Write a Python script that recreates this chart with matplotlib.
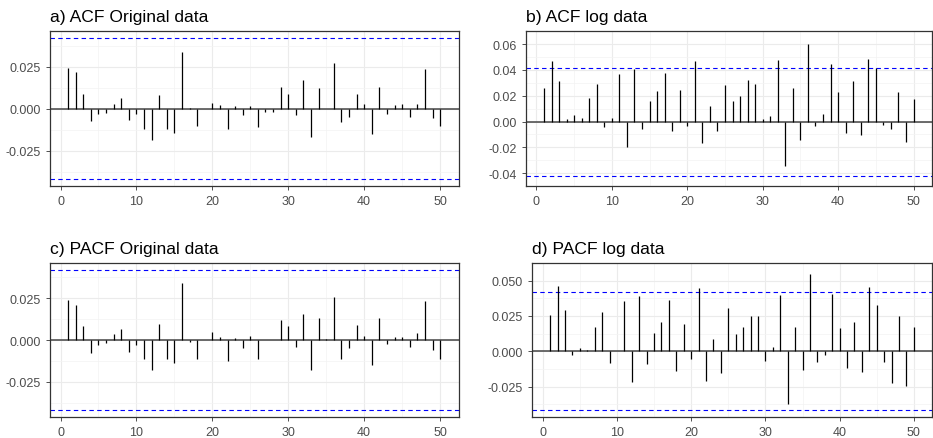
# plot.py
# ACF / PACF panels, original vs log data, ggplot theme_bw look.

import matplotlib
matplotlib.use("Agg")
import matplotlib.pyplot as plt
import numpy as np

plt.rcParams["font.family"] = ["Liberation Sans", "DejaVu Sans"]

lags = np.arange(1, 51)
ci = 0.0419

acf_orig = [0.0240, 0.0219, 0.0089, -0.0075, -0.0030, -0.0024, 0.0031, 0.0065, -0.0069, -0.0030,
            -0.0120, -0.0185, 0.0083, -0.0122, -0.0144, 0.0335, 0.0002, -0.0104, 0.0001, 0.0035,
            0.0020, -0.0122, 0.0016, -0.0039, 0.0016, -0.0110, -0.0018, -0.0018, 0.0130, 0.0089,
            -0.0039, 0.0171, -0.0167, 0.0124, 0.0001, 0.0272, -0.0081, -0.0047, 0.0089, 0.0026,
            -0.0150, 0.0130, -0.0030, 0.0020, 0.0026, -0.0047, 0.0031, 0.0236, -0.0057, -0.0104]

acf_log = [0.0264, 0.0473, 0.0315, 0.0017, 0.0053, 0.0024, 0.0180, 0.0295, -0.0046, 0.0031,
           0.0367, -0.0195, 0.0408, -0.0060, 0.0161, 0.0238, 0.0375, -0.0074, 0.0245, -0.0034,
           0.0473, -0.0166, 0.0118, -0.0074, 0.0281, 0.0161, 0.0202, 0.0322, 0.0288, 0.0017,
           0.0046, 0.0480, -0.0343, 0.0264, -0.0144, 0.0598, -0.0034, 0.0060, 0.0444, 0.0230,
           -0.0086, 0.0315, -0.0101, 0.0487, 0.0418, -0.0026, -0.0060, 0.0230, -0.0161, 0.0173]

pacf_orig = [0.0240, 0.0211, 0.0083, -0.0079, -0.0028, -0.0016, 0.0037, 0.0065, -0.0073, -0.0028,
             -0.0112, -0.0177, 0.0094, -0.0114, -0.0136, 0.0341, -0.0012, -0.0114, 0.0001, 0.0049,
             0.0020, -0.0124, 0.0014, -0.0045, 0.0026, -0.0114, 0.0001, 0.0001, 0.0122, 0.0083,
             -0.0039, 0.0154, -0.0177, 0.0134, 0.0008, 0.0258, -0.0110, -0.0045, 0.0089, 0.0026,
             -0.0148, 0.0134, -0.0022, 0.0020, 0.0020, -0.0039, 0.0043, 0.0234, -0.0061, -0.0112]

pacf_log = [0.0258, 0.0463, 0.0292, -0.0023, 0.0023, 0.0011, 0.0171, 0.0279, -0.0084, 0.0001,
            0.0354, -0.0219, 0.0388, -0.0089, 0.0130, 0.0205, 0.0361, -0.0139, 0.0192, -0.0057,
            0.0450, -0.0212, 0.0084, -0.0151, 0.0308, 0.0119, 0.0174, 0.0247, 0.0247, -0.0071,
            0.0032, 0.0402, -0.0370, 0.0174, -0.0132, 0.0546, -0.0078, -0.0023, 0.0409, 0.0167,
            -0.0119, 0.0205, -0.0144, 0.0457, 0.0327, -0.0078, -0.0226, 0.0247, -0.0247, 0.0171]

titles = ["a) ACF Original data", "b) ACF log data", "c) PACF Original data", "d) PACF log data"]

W, H = 933, 439
# panel boxes in pixels: left, top, right, bottom
boxes = [(49.5, 32.3, 458.7, 187.3), (525.5, 32.3, 932.0, 187.0),
         (49.5, 264.0, 458.7, 418.3), (532.0, 264.0, 932.0, 418.3)]
yticks = [[-0.025, 0.0, 0.025], [-0.04, -0.02, 0.0, 0.02, 0.04, 0.06],
          [-0.025, 0.0, 0.025], [-0.025, 0.0, 0.025, 0.050]]
yfmt = ["{:.3f}", "{:.2f}", "{:.3f}", "{:.3f}"]

fig = plt.figure(figsize=(W / 100, H / 100), dpi=100)
fig.patch.set_facecolor("white")

for vals, title, box, yt, fmt in zip([acf_orig, acf_log, pacf_orig, pacf_log],
                                     titles, boxes, yticks, yfmt):
    l, t, r, b = box
    ax = fig.add_axes([l / W, 1 - b / H, (r - l) / W, (b - t) / H])
    vals = np.asarray(vals)

    lo = min(vals.min(), -ci)
    hi = max(vals.max(), ci)
    pad = (hi - lo) * 0.05
    ax.set_ylim(lo - pad, hi + pad)
    ax.set_xlim(1 - 49 * 0.05, 50 + 49 * 0.05)

    # grid (theme_bw)
    xt = [0, 10, 20, 30, 40, 50]
    ax.set_xticks(xt)
    ax.set_xticks([5, 15, 25, 35, 45], minor=True)
    ax.set_yticks(yt)
    step = yt[1] - yt[0]
    ax.set_yticks([y + step / 2 for y in [yt[0] - step] + yt], minor=True)
    ax.grid(which="major", color="#EBEBEB", linewidth=0.8)
    ax.grid(which="minor", color="#F3F3F3", linewidth=0.5)
    ax.set_axisbelow(True)

    ax.vlines(lags, 0, vals, color="black", linewidth=0.9, zorder=3)
    ax.axhline(0, color="#444444", linewidth=1.1, zorder=2)
    for c in (ci, -ci):
        ax.axhline(c, color="blue", linestyle=(0, (4, 3)), linewidth=0.8, zorder=2)

    ax.set_yticklabels([fmt.format(y) if abs(y) > 1e-12 else fmt.format(0.0) for y in yt])
    ax.tick_params(which="major", labelsize=9, labelcolor="#4D4D4D", color="#333333",
                   length=3, width=0.6)
    ax.tick_params(which="minor", length=0)
    for s in ax.spines.values():
        s.set_color("#333333")
        s.set_linewidth(0.9)

    ax.set_title(title, loc="left", fontsize=12.6, pad=7.5, color="black")

fig.savefig("out.png", dpi=100, facecolor="white")
